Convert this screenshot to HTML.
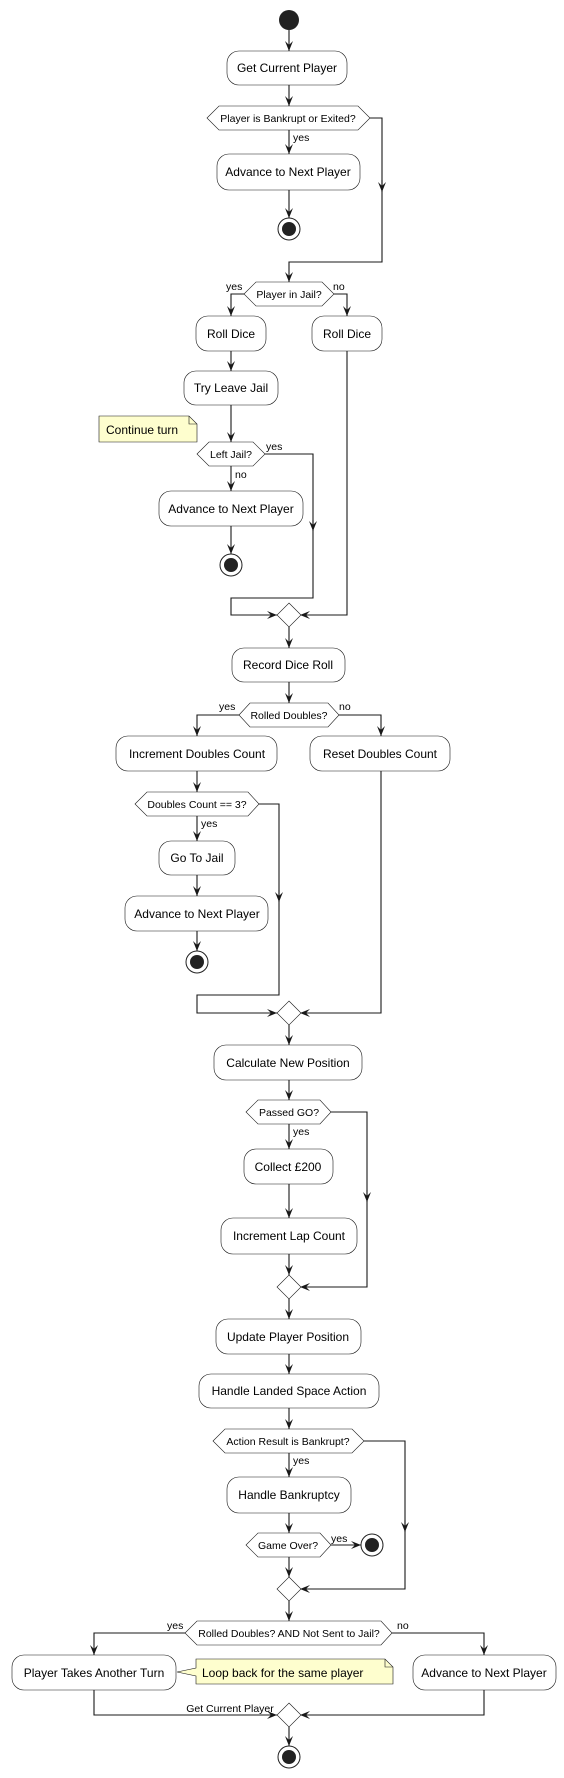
<!DOCTYPE html>
<html><head><meta charset="utf-8"><style>
html,body{margin:0;padding:0;background:#fff;}
svg{display:block;}
text{font-family:"Liberation Sans",sans-serif;fill:#000;}
.b{fill:#fff;stroke:#181818;stroke-width:0.6;}
.l{fill:none;stroke:#181818;stroke-width:1.1;}
.t{font-size:12px;text-anchor:middle;}
.h{font-size:10.5px;text-anchor:middle;}
.s{font-size:10.5px;}
.n{fill:#fefece;stroke:#181818;stroke-width:0.6;}
</style></head><body>
<svg width="564" height="1778" viewBox="0 0 564 1778" xmlns="http://www.w3.org/2000/svg">
<defs>
<marker id="a" markerWidth="10" markerHeight="8" refX="10" refY="4" orient="auto" markerUnits="userSpaceOnUse">
<path d="M0,0 L10,4 L0,8 L4,4 Z" fill="#181818"/></marker>
</defs>

<!-- start -->
<circle cx="289" cy="20" r="10" fill="#222"/>
<path class="l" d="M289,30 V51" marker-end="url(#a)"/>
<rect class="b" x="227" y="51" width="120" height="34" rx="12"/>
<text class="t" x="287" y="72">Get Current Player</text>
<path class="l" d="M289,85 V106" marker-end="url(#a)"/>
<polygon class="b" points="207,118 219,106 358,106 370,118 358,130 219,130"/>
<text class="h" x="288" y="122">Player is Bankrupt or Exited?</text>
<path class="l" d="M289,130 V154" marker-end="url(#a)"/>
<text class="s" x="293" y="141">yes</text>
<rect class="b" x="217" y="154" width="143" height="36" rx="12"/>
<text class="t" x="288" y="176">Advance to Next Player</text>
<path class="l" d="M289,190 V218" marker-end="url(#a)"/>
<circle cx="289" cy="229" r="11" fill="#fff" stroke="#222" stroke-width="1"/>
<circle cx="289" cy="229" r="7" fill="#222"/>
<path class="l" d="M370,118 H382 V262 H289 V282" marker-end="url(#a)"/>
<path class="l" d="M382,180 V192" marker-end="url(#a)"/>

<!-- jail -->
<polygon class="b" points="244,294 256,282 322,282 334,294 322,306 256,306"/>
<text class="h" x="289" y="298">Player in Jail?</text>
<text class="s" x="226" y="290">yes</text>
<text class="s" x="333" y="290">no</text>
<path class="l" d="M244,294 H231 V316" marker-end="url(#a)"/>
<path class="l" d="M334,294 H347 V316" marker-end="url(#a)"/>
<rect class="b" x="196" y="316" width="70" height="35" rx="12"/>
<text class="t" x="231" y="338">Roll Dice</text>
<rect class="b" x="312" y="316" width="70" height="35" rx="12"/>
<text class="t" x="347" y="338">Roll Dice</text>
<path class="l" d="M231,351 V371" marker-end="url(#a)"/>
<rect class="b" x="184" y="371" width="94" height="34" rx="12"/>
<text class="t" x="231" y="392">Try Leave Jail</text>
<path class="l" d="M231,405 V442" marker-end="url(#a)"/>
<path class="n" d="M99,416 H189 L197,424 V442 H99 Z"/>
<path fill="none" stroke="#181818" stroke-width="0.6" d="M189,416 V424 H197"/>
<text x="106" y="434" style="font-size:12px">Continue turn</text>
<polygon class="b" points="197,454 209,442 253,442 265,454 253,466 209,466"/>
<text class="h" x="231" y="458">Left Jail?</text>
<text class="s" x="266" y="450">yes</text>
<path class="l" d="M231,466 V491" marker-end="url(#a)"/>
<text class="s" x="235" y="478">no</text>
<rect class="b" x="159" y="491" width="144" height="35" rx="12"/>
<text class="t" x="231" y="513">Advance to Next Player</text>
<path class="l" d="M231,526 V554" marker-end="url(#a)"/>
<circle cx="231" cy="565" r="11" fill="#fff" stroke="#222" stroke-width="1"/>
<circle cx="231" cy="565" r="7" fill="#222"/>
<path class="l" d="M265,454 H313 V598 H231 V615 H277" marker-end="url(#a)"/>
<path class="l" d="M313,520 V531" marker-end="url(#a)"/>
<path class="l" d="M347,351 V615 H300" marker-end="url(#a)"/>
<polygon class="b" points="289,603 301,615 289,627 277,615"/>
<path class="l" d="M289,627 V648" marker-end="url(#a)"/>

<rect class="b" x="232" y="648" width="113" height="34" rx="12"/>
<text class="t" x="288" y="669">Record Dice Roll</text>
<path class="l" d="M289,682 V703" marker-end="url(#a)"/>
<polygon class="b" points="239,715 250,703 328,703 339,715 328,727 250,727"/>
<text class="h" x="289" y="719">Rolled Doubles?</text>
<text class="s" x="219" y="710">yes</text>
<text class="s" x="339" y="710">no</text>
<path class="l" d="M239,715 H197 V736" marker-end="url(#a)"/>
<path class="l" d="M339,715 H381 V736" marker-end="url(#a)"/>
<rect class="b" x="116" y="736" width="161" height="35" rx="12"/>
<text class="t" x="197" y="758">Increment Doubles Count</text>
<rect class="b" x="310" y="736" width="140" height="35" rx="12"/>
<text class="t" x="380" y="758">Reset Doubles Count</text>
<path class="l" d="M197,771 V792" marker-end="url(#a)"/>
<polygon class="b" points="135,804 147,792 248,792 259,804 248,816 147,816"/>
<text class="h" x="197" y="808">Doubles Count == 3?</text>
<path class="l" d="M197,816 V841" marker-end="url(#a)"/>
<text class="s" x="201" y="827">yes</text>
<rect class="b" x="159" y="841" width="76" height="34" rx="12"/>
<text class="t" x="197" y="862">Go To Jail</text>
<path class="l" d="M197,875 V896" marker-end="url(#a)"/>
<rect class="b" x="125" y="896" width="143" height="35" rx="12"/>
<text class="t" x="197" y="918">Advance to Next Player</text>
<path class="l" d="M197,931 V951" marker-end="url(#a)"/>
<circle cx="197" cy="962" r="11" fill="#fff" stroke="#222" stroke-width="1"/>
<circle cx="197" cy="962" r="7" fill="#222"/>
<path class="l" d="M259,804 H279 V995 H197 V1013 H277" marker-end="url(#a)"/>
<path class="l" d="M279,890 V902" marker-end="url(#a)"/>
<path class="l" d="M381,771 V1013 H300" marker-end="url(#a)"/>
<polygon class="b" points="289,1001 301,1013 289,1025 277,1013"/>
<path class="l" d="M289,1025 V1045" marker-end="url(#a)"/>

<rect class="b" x="214" y="1045" width="148" height="35" rx="12"/>
<text class="t" x="288" y="1067">Calculate New Position</text>
<path class="l" d="M289,1080 V1100" marker-end="url(#a)"/>
<polygon class="b" points="246,1112 258,1100 320,1100 331,1112 320,1124 258,1124"/>
<text class="h" x="289" y="1116">Passed GO?</text>
<path class="l" d="M289,1124 V1149" marker-end="url(#a)"/>
<text class="s" x="293" y="1135">yes</text>
<rect class="b" x="244" y="1149" width="89" height="35" rx="12"/>
<text class="t" x="288" y="1171">Collect £200</text>
<path class="l" d="M289,1184 V1218" marker-end="url(#a)"/>
<rect class="b" x="221" y="1218" width="136" height="36" rx="12"/>
<text class="t" x="289" y="1240">Increment Lap Count</text>
<path class="l" d="M289,1254 V1275" marker-end="url(#a)"/>
<path class="l" d="M331,1112 H367 V1287 H300" marker-end="url(#a)"/>
<path class="l" d="M367,1190 V1202" marker-end="url(#a)"/>
<polygon class="b" points="289,1275 301,1287 289,1299 277,1287"/>
<path class="l" d="M289,1299 V1319" marker-end="url(#a)"/>

<rect class="b" x="216" y="1319" width="145" height="35" rx="12"/>
<text class="t" x="288" y="1341">Update Player Position</text>
<path class="l" d="M289,1354 V1374" marker-end="url(#a)"/>
<rect class="b" x="199" y="1374" width="180" height="34" rx="12"/>
<text class="t" x="289" y="1395">Handle Landed Space Action</text>
<path class="l" d="M289,1408 V1429" marker-end="url(#a)"/>
<polygon class="b" points="213,1441 225,1429 352,1429 364,1441 352,1453 225,1453"/>
<text class="h" x="288" y="1445">Action Result is Bankrupt?</text>
<path class="l" d="M289,1453 V1477" marker-end="url(#a)"/>
<text class="s" x="293" y="1464">yes</text>
<rect class="b" x="227" y="1477" width="124" height="36" rx="12"/>
<text class="t" x="289" y="1499">Handle Bankruptcy</text>
<path class="l" d="M289,1513 V1533" marker-end="url(#a)"/>
<polygon class="b" points="246,1545 258,1533 320,1533 331,1545 320,1557 258,1557"/>
<text class="h" x="288" y="1549">Game Over?</text>
<text class="s" x="331" y="1542">yes</text>
<path class="l" d="M331,1545 H361" marker-end="url(#a)"/>
<circle cx="372" cy="1545" r="11" fill="#fff" stroke="#222" stroke-width="1"/>
<circle cx="372" cy="1545" r="7" fill="#222"/>
<path class="l" d="M289,1557 V1577" marker-end="url(#a)"/>
<path class="l" d="M364,1441 H405 V1589 H300" marker-end="url(#a)"/>
<path class="l" d="M405,1520 V1532" marker-end="url(#a)"/>
<polygon class="b" points="289,1577 301,1589 289,1601 277,1589"/>
<path class="l" d="M289,1601 V1621" marker-end="url(#a)"/>

<polygon class="b" points="185,1633 197,1621 381,1621 392,1633 381,1645 197,1645"/>
<text class="h" x="289" y="1637">Rolled Doubles? AND Not Sent to Jail?</text>
<text class="s" x="167" y="1629">yes</text>
<text class="s" x="397" y="1629">no</text>
<path class="l" d="M185,1633 H94 V1655" marker-end="url(#a)"/>
<path class="l" d="M392,1633 H484 V1655" marker-end="url(#a)"/>
<rect class="b" x="12" y="1655" width="164" height="35" rx="12"/>
<text class="t" x="94" y="1677">Player Takes Another Turn</text>
<path class="n" d="M196,1659 H385 L393,1667 V1684 H196 V1676 L177,1672 L196,1668 Z"/>
<path fill="none" stroke="#181818" stroke-width="0.6" d="M385,1659 V1667 H393"/>
<text x="202" y="1677" style="font-size:12px">Loop back for the same player</text>
<rect class="b" x="413" y="1655" width="143" height="35" rx="12"/>
<text class="t" x="484" y="1677">Advance to Next Player</text>
<path class="l" d="M94,1690 V1715 H277" marker-end="url(#a)"/>
<path class="l" d="M484,1690 V1715 H300" marker-end="url(#a)"/>
<text class="s" x="230" y="1712" text-anchor="middle">Get Current Player</text>
<polygon class="b" points="289,1703 301,1715 289,1727 277,1715"/>
<path class="l" d="M289,1727 V1746" marker-end="url(#a)"/>
<circle cx="289" cy="1757" r="11" fill="#fff" stroke="#222" stroke-width="1"/>
<circle cx="289" cy="1757" r="7" fill="#222"/>
</svg>
</body></html>
